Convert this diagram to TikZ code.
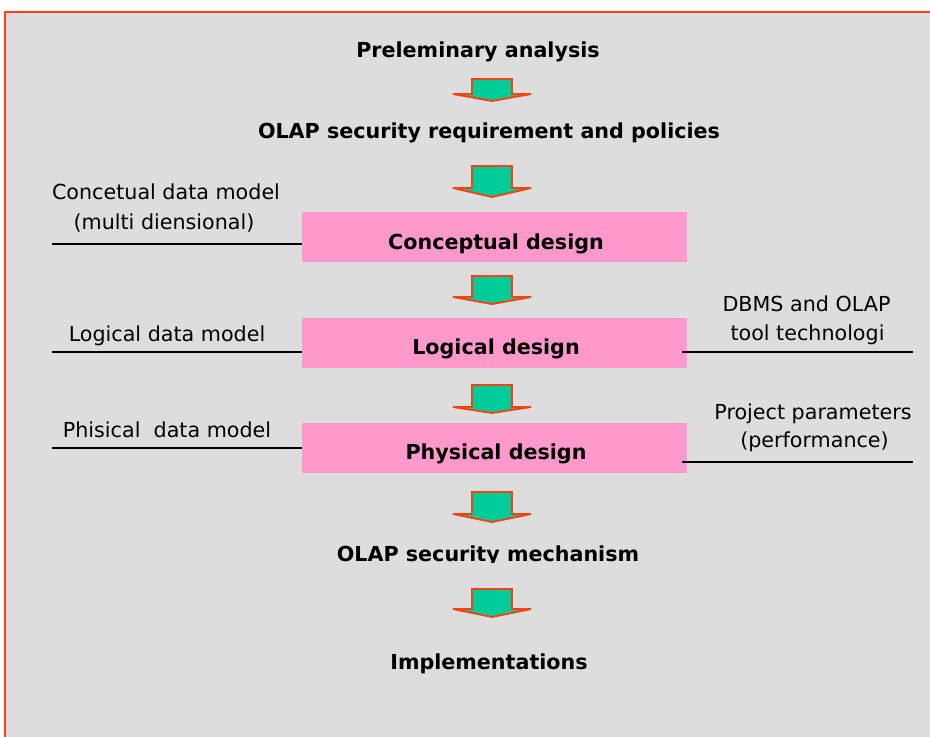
\documentclass[tikz,border=0pt]{standalone}
\usepackage{fontspec}
\setmainfont{DejaVu Sans}
\definecolor{panelgray}{HTML}{DDDDDD}
\definecolor{frameorange}{HTML}{FF4010}
\definecolor{boxpink}{HTML}{FF99CC}
\definecolor{arrowgreen}{HTML}{00CC99}
\begin{document}
\begin{tikzpicture}[x=0.75pt,y=-0.75pt,
  heading/.style={font=\fontsize{15.5}{18}\selectfont\bfseries, inner sep=0pt, anchor=base},
  note/.style={font=\fontsize{15.5}{18}\selectfont, inner sep=0pt, anchor=base},
  designbox/.style={fill=boxpink, draw=none, minimum width=288.75pt, minimum height=37.5pt, inner sep=0pt},
  feed/.style={draw=black, line width=1.5pt},
  blockarrow/.style={fill=arrowgreen, draw=frameorange, line width=1.4pt, line join=miter, miter limit=2.5}
]
\useasboundingbox (0,0) rectangle (930,736);
% panel with frame (right and bottom edges run off the page)
\fill[white] (0,0) rectangle (930,736);
\draw[fill=panelgray, draw=frameorange, line width=1.6pt] (5,12) rectangle (940,746);

% block arrow: top, wing and tip heights
\newcommand{\downarrowblock}[3]{%
  \draw[blockarrow] (472,#1) -- (512,#1) -- (512,#2) -- (531,#2) -- (492,#3)
    -- (453,#2) -- (472,#2) -- cycle;}

% steps
\node[heading] (prelim) at (478,57) {Preleminary analysis};
\node[heading] (req) at (489,138) {OLAP security requirement and policies};

\node[designbox] (concept) at (494.5,237) {};
\node[heading] (conceptT) at (496,249) {Conceptual design};
\node[designbox] (logical) at (494.5,342.5) {};
\node[heading] (logicalT) at (496,354) {Logical design};
\node[designbox] (physical) at (494.5,447.5) {};
\node[heading] (physicalT) at (496,459) {Physical design};

\begin{scope}
  \clip (0,0) rectangle (930,562);
  \node[heading] (mech) at (488,561) {OLAP security mechanism};
\end{scope}
\node[heading] (impl) at (489,669) {Implementations};

% arrows between the steps
\downarrowblock{79}{94}{101}
\downarrowblock{166}{188}{197}
\downarrowblock{276}{297}{304}
\downarrowblock{385}{407}{413}
\downarrowblock{492}{514}{522}
\downarrowblock{589}{609}{617}

% inputs on the left
\node[note] (cdm1) at (166,199) {Concetual data model};
\node[note] (cdm2) at (164,229) {(multi diensional)};
\coordinate (cdmL) at (52,244);
\draw[feed] (cdmL) -- (cdmL -| concept.west);

\node[note] (ldm) at (167,341) {Logical data model};
\coordinate (ldmL) at (52,352);
\draw[feed] (ldmL) -- (ldmL -| logical.west);

\node[note] (pdm) at (167,437) {Phisical\ \ data model};
\coordinate (pdmL) at (52,448);
\draw[feed] (pdmL) -- (pdmL -| physical.west);

% inputs on the right
\node[note] (tech1) at (806.5,311) {DBMS and OLAP};
\node[note] (tech2) at (807.5,340) {tool technologi};
\coordinate (techR) at (913,352);
\draw[feed] (techR -| logical.east) ++(-5,0) -- (techR);

\node[note] (par1) at (813,419) {Project parameters};
\node[note] (par2) at (814.5,447) {(performance)};
\coordinate (parR) at (913,462);
\draw[feed] (parR -| physical.east) ++(-5,0) -- (parR);
\end{tikzpicture}
\end{document}
